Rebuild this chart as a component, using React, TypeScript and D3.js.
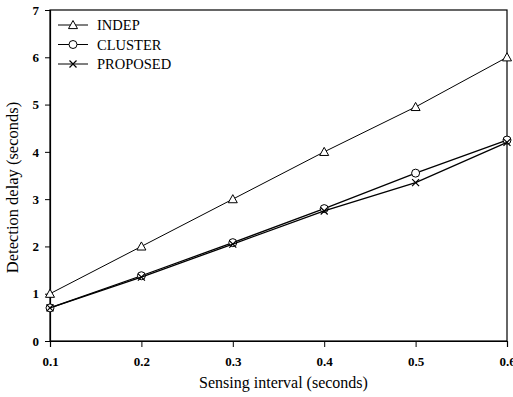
import React, { useEffect, useRef } from 'react';
import * as d3 from 'd3';

const intervals = [0.1, 0.2, 0.3, 0.4, 0.5, 0.6];
const indep = [1.0, 2.0, 3.0, 4.0, 4.95, 6.0];
const cluster = [0.7, 1.38, 2.08, 2.8, 3.55, 4.25];
const proposed = [0.7, 1.35, 2.05, 2.75, 3.35, 4.2];
const seriesNames = ['INDEP', 'CLUSTER', 'PROPOSED'];
const yTicks = [0, 1, 2, 3, 4, 5, 6, 7];

const App = () => {
  const ref = useRef(null);

  useEffect(() => {
    const svg = d3.select(ref.current);
    svg.selectAll('*').remove();

    const width = 513;
    const height = 397;
    const left = 50, right = 507, top = 10, bottom = 341;

    const x = d3.scaleLinear().domain([0.1, 0.6]).range([left, right]);
    const y = d3.scaleLinear().domain([0, 7]).range([bottom, top]);

    svg.attr('width', width).attr('height', height);
    svg.append('rect').attr('width', width).attr('height', height).attr('fill', '#fff');

    const font = '"Liberation Serif", "Times New Roman", serif';

    // frame
    svg.append('rect')
      .attr('x', left).attr('y', top)
      .attr('width', right - left).attr('height', bottom - top)
      .attr('fill', 'none').attr('stroke', '#000').attr('stroke-width', 1.2);

    // axes
    const xAxis = svg.append('g')
      .attr('transform', `translate(0,${bottom})`)
      .call(d3.axisBottom(x).tickValues(intervals).tickFormat(d3.format('.1f')).tickSize(6).tickPadding(10));
    const yAxis = svg.append('g')
      .attr('transform', `translate(${left},0)`)
      .call(d3.axisLeft(y).tickValues(yTicks).tickFormat(d3.format('d')).tickSize(5).tickPadding(6));

    [xAxis, yAxis].forEach(g => {
      g.select('.domain').attr('stroke', '#000').attr('stroke-width', 1.2);
      g.selectAll('.tick line').attr('stroke', '#000');
      g.selectAll('text')
        .attr('font-family', font)
        .attr('font-size', 13)
        .attr('font-weight', 'bold')
        .attr('fill', '#000');
    });

    // axis titles
    svg.append('text')
      .attr('x', (left + right) / 2 + 5)
      .attr('y', 388)
      .attr('text-anchor', 'middle')
      .attr('font-family', font)
      .attr('font-size', 16)
      .text('Sensing interval (seconds)');

    svg.append('text')
      .attr('transform', `translate(18,${(top + bottom) / 2 + 12}) rotate(-90)`)
      .attr('text-anchor', 'middle')
      .attr('font-family', font)
      .attr('font-size', 16.5)
      .text('Detection delay (seconds)');

    const line = d3.line()
      .x((d, i) => x(intervals[i]))
      .y(d => y(d));

    const data = [indep, cluster, proposed];

    const drawMarker = (g, kind, cx, cy) => {
      if (kind === 0) {
        const s = 4.5;
        g.append('path')
          .attr('d', `M${cx},${cy - s}L${cx + s},${cy + s * 0.8}L${cx - s},${cy + s * 0.8}Z`)
          .attr('fill', '#fff').attr('stroke', '#000').attr('stroke-width', 1);
      } else if (kind === 1) {
        g.append('circle')
          .attr('cx', cx).attr('cy', cy).attr('r', 4)
          .attr('fill', '#fff').attr('stroke', '#000').attr('stroke-width', 1);
      } else {
        const s = 3.5;
        g.append('path')
          .attr('d', `M${cx - s},${cy - s}L${cx + s},${cy + s}M${cx - s},${cy + s}L${cx + s},${cy - s}`)
          .attr('stroke', '#000').attr('stroke-width', 1.2);
      }
    };

    data.forEach((vals, k) => {
      const g = svg.append('g');
      g.append('path')
        .attr('d', line(vals))
        .attr('fill', 'none')
        .attr('stroke', '#000')
        .attr('stroke-width', k === 0 ? 1 : 1.3);
      vals.forEach((v, i) => drawMarker(g, k, x(intervals[i]), y(v)));
    });

    // legend
    const legend = svg.append('g').attr('transform', 'translate(58,25)');
    seriesNames.forEach((name, k) => {
      const row = legend.append('g').attr('transform', `translate(0,${k * 19.5})`);
      row.append('line').attr('x1', 0).attr('x2', 30).attr('y1', 0).attr('y2', 0)
        .attr('stroke', '#000').attr('stroke-width', 1);
      drawMarker(row, k, 15, 0);
      row.append('text')
        .attr('x', 39).attr('y', 0).attr('dy', '0.35em')
        .attr('font-family', font)
        .attr('font-size', 14.5)
        .text(name);
    });
  }, []);

  return <svg ref={ref} style={{ position: 'absolute', left: 0, top: 0 }}></svg>;
};

export default App;
